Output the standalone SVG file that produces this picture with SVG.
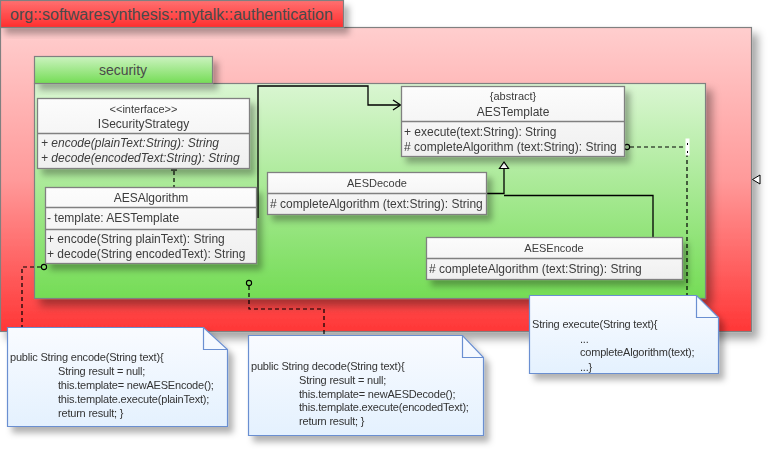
<svg xmlns="http://www.w3.org/2000/svg" width="768" height="451" viewBox="0 0 768 451">
<defs>
<linearGradient id="redTab" x1="0" y1="0" x2="0" y2="1"><stop offset="0" stop-color="#ff7070"/><stop offset="1" stop-color="#ff2e2e"/></linearGradient>
<linearGradient id="redBody" x1="0" y1="0" x2="0" y2="1"><stop offset="0" stop-color="#ffcece"/><stop offset="0.5" stop-color="#ff9a9a"/><stop offset="1" stop-color="#ff3636"/></linearGradient>
<linearGradient id="greenTab" x1="0" y1="0" x2="0" y2="1"><stop offset="0" stop-color="#ccf3c0"/><stop offset="1" stop-color="#74dc55"/></linearGradient>
<linearGradient id="greenBody" x1="0" y1="0" x2="0" y2="1"><stop offset="0" stop-color="#daf6d2"/><stop offset="1" stop-color="#74dc55"/></linearGradient>
<linearGradient id="cls" x1="0" y1="0" x2="0" y2="1"><stop offset="0" stop-color="#fcfcfc"/><stop offset="1" stop-color="#efefef"/></linearGradient>
<linearGradient id="note" x1="0" y1="0" x2="0" y2="1"><stop offset="0" stop-color="#f9fbff"/><stop offset="1" stop-color="#e4f1fe"/></linearGradient>
<filter id="sh" x="-10%" y="-10%" width="130%" height="140%"><feDropShadow dx="6" dy="7" stdDeviation="4" flood-color="#000" flood-opacity="0.35"/></filter>
<filter id="shs" x="-10%" y="-10%" width="130%" height="150%"><feDropShadow dx="5" dy="6" stdDeviation="3" flood-color="#000" flood-opacity="0.3"/></filter>
</defs>
<style>
text{font-family:"Liberation Sans",Arial,sans-serif;fill:#3c3c3c}
.pk{stroke:#808080;stroke-width:1.2}
.c{fill:url(#cls);stroke:#808080;stroke-width:1.3}
.sep{stroke:#808080;stroke-width:1.3}
.t{font-size:12px;text-anchor:middle}
.s{font-size:11px;text-anchor:middle}
.m{font-size:12px}
.i{font-size:12px;font-style:italic}
.n{fill:url(#note);stroke:#6b8fd1;stroke-width:1.2}
.nt{font-size:11px;letter-spacing:-0.2px;fill:#333}
.ln{fill:none;stroke:#000;stroke-width:1.3}
.dl{fill:none;stroke:#000;stroke-width:1.2;stroke-dasharray:4 3}
</style>

<g id="pkg-authentication">
<rect x="0.5" y="27.5" width="751" height="304" fill="url(#redBody)" class="pk" filter="url(#sh)"/>
<rect x="0.5" y="0.5" width="343" height="27" fill="url(#redTab)" class="pk" filter="url(#shs)"/>
<text x="10" y="20" style="font-size:16px;fill:#4a4a4a">org::softwaresynthesis::mytalk::authentication</text>
<path d="M760,175 L752.5,179.5 L760,184 Z" fill="#fff" stroke="#000" stroke-width="1"/>
</g>

<g id="pkg-security">
<rect x="34.5" y="83.5" width="671" height="215" fill="url(#greenBody)" class="pk" filter="url(#sh)"/>
<rect x="34.5" y="56.5" width="178" height="27" fill="url(#greenTab)" class="pk" filter="url(#shs)"/>
<text x="123" y="75" style="font-size:14px;text-anchor:middle;fill:#4a4a4a">security</text>
</g>

<g id="connectors">
<polyline class="ln" points="258,218 258,86 368,86 368,105 400,105"/>
<polyline class="ln" points="393,100 400.5,105 393,110"/>
<line class="dl" x1="174" y1="171" x2="174" y2="187"/>
<path d="M171,170 L177,170" stroke="#000" stroke-width="1.2"/>
<path d="M504,162 L499.5,168.5 L508.5,168.5 Z" fill="#fff" stroke="#000" stroke-width="1.2"/>
<polyline class="ln" points="504,168.5 504,193.5 487,193.5"/>
<polyline class="ln" points="653,237 653,195.5 504,195.5"/>
<circle cx="44" cy="267" r="2.6" fill="none" stroke="#000" stroke-width="1.1"/>
<polyline class="dl" points="41,267 22,267 22,327"/>
<circle cx="249" cy="283" r="2.6" fill="none" stroke="#000" stroke-width="1.1"/>
<polyline class="dl" points="249,286 249,309 324,309 324,335"/>
<circle cx="627" cy="147" r="2.6" fill="none" stroke="#000" stroke-width="1.1"/>
<polyline class="dl" points="630,147 687,147 687,295"/>
<rect x="685.5" y="138.5" width="4" height="17" fill="#fff"/>
<line x1="687.5" y1="143" x2="687.5" y2="145" stroke="#000"/>
<line x1="687.5" y1="151" x2="687.5" y2="153" stroke="#000"/>
</g>

<g id="ISecurityStrategy" filter="url(#shs)">
<rect x="37.5" y="98.5" width="212" height="70" class="c"/>
<line x1="37.5" y1="133.5" x2="249.5" y2="133.5" class="sep"/>
<text x="143.5" y="113" class="s">&lt;&lt;interface&gt;&gt;</text>
<text x="143.5" y="128" class="t">ISecurityStrategy</text>
<text x="41" y="147" class="i">+ encode(plainText:String): String</text>
<text x="41" y="162" class="i">+ decode(encodedText:String): String</text>
</g>

<g id="AESAlgorithm" filter="url(#shs)">
<rect x="45.5" y="187.5" width="211" height="76" class="c"/>
<line x1="45.5" y1="207.5" x2="256.5" y2="207.5" class="sep"/>
<line x1="45.5" y1="229.5" x2="256.5" y2="229.5" class="sep"/>
<text x="151" y="202" class="t">AESAlgorithm</text>
<text x="47" y="222" class="m">- template: AESTemplate</text>
<text x="47" y="243" class="m">+ encode(String plainText): String</text>
<text x="47" y="258" class="m">+ decode(String encodedText): String</text>
</g>

<g id="AESTemplate" filter="url(#shs)">
<rect x="401.5" y="86.5" width="223" height="70" class="c"/>
<line x1="401.5" y1="121.5" x2="624.5" y2="121.5" class="sep"/>
<text x="513" y="100" class="s">{abstract}</text>
<text x="513" y="116" class="t">AESTemplate</text>
<text x="404" y="136" class="m">+ execute(text:String): String</text>
<text x="404" y="151" class="m"># completeAlgorithm (text:String): String</text>
</g>

<g id="AESDecode" filter="url(#shs)">
<rect x="267.5" y="172.5" width="219" height="42" class="c"/>
<line x1="267.5" y1="193.5" x2="486.5" y2="193.5" class="sep"/>
<text x="377" y="187" class="s">AESDecode</text>
<text x="270" y="208" class="m"># completeAlgorithm (text:String): String</text>
</g>

<g id="AESEncode" filter="url(#shs)">
<rect x="426.5" y="237.5" width="256" height="42" class="c"/>
<line x1="426.5" y1="258.5" x2="682.5" y2="258.5" class="sep"/>
<text x="554" y="252" class="s">AESEncode</text>
<text x="429" y="273" class="m"># completeAlgorithm (text:String): String</text>
</g>

<g id="note-encode" filter="url(#shs)">
<path d="M7.5,327.5 L203.5,327.5 L227.5,349.5 L227.5,426.5 L7.5,426.5 Z" class="n"/>
<path d="M203.5,327.5 L203.5,349.5 L227.5,349.5" fill="none" stroke="#6b8fd1" stroke-width="1.2"/>
<text x="10" y="361" class="nt">public String encode(String text){</text>
<text x="58" y="375" class="nt">String result = null;</text>
<text x="58" y="389" class="nt">this.template= newAESEncode();</text>
<text x="58" y="403" class="nt">this.template.execute(plainText);</text>
<text x="58" y="417" class="nt">return result; }</text>
</g>

<g id="note-decode" filter="url(#shs)">
<path d="M248.5,335.5 L462.5,335.5 L483.5,357.5 L483.5,435.5 L248.5,435.5 Z" class="n"/>
<path d="M462.5,335.5 L462.5,357.5 L483.5,357.5" fill="none" stroke="#6b8fd1" stroke-width="1.2"/>
<text x="251" y="370" class="nt">public String decode(String text){</text>
<text x="299" y="384" class="nt">String result = null;</text>
<text x="299" y="398" class="nt">this.template= newAESDecode();</text>
<text x="299" y="411" class="nt">this.template.execute(encodedText);</text>
<text x="299" y="425" class="nt">return result; }</text>
</g>

<g id="note-execute" filter="url(#shs)">
<path d="M529.5,295.5 L696.5,295.5 L718.5,317.5 L718.5,373.5 L529.5,373.5 Z" class="n"/>
<path d="M696.5,295.5 L696.5,317.5 L718.5,317.5" fill="none" stroke="#6b8fd1" stroke-width="1.2"/>
<text x="532" y="328" class="nt">String execute(String text){</text>
<text x="580" y="343" class="nt">...</text>
<text x="580" y="356" class="nt">completeAlgorithm(text);</text>
<text x="580" y="371" class="nt">...}</text>
</g>
</svg>
